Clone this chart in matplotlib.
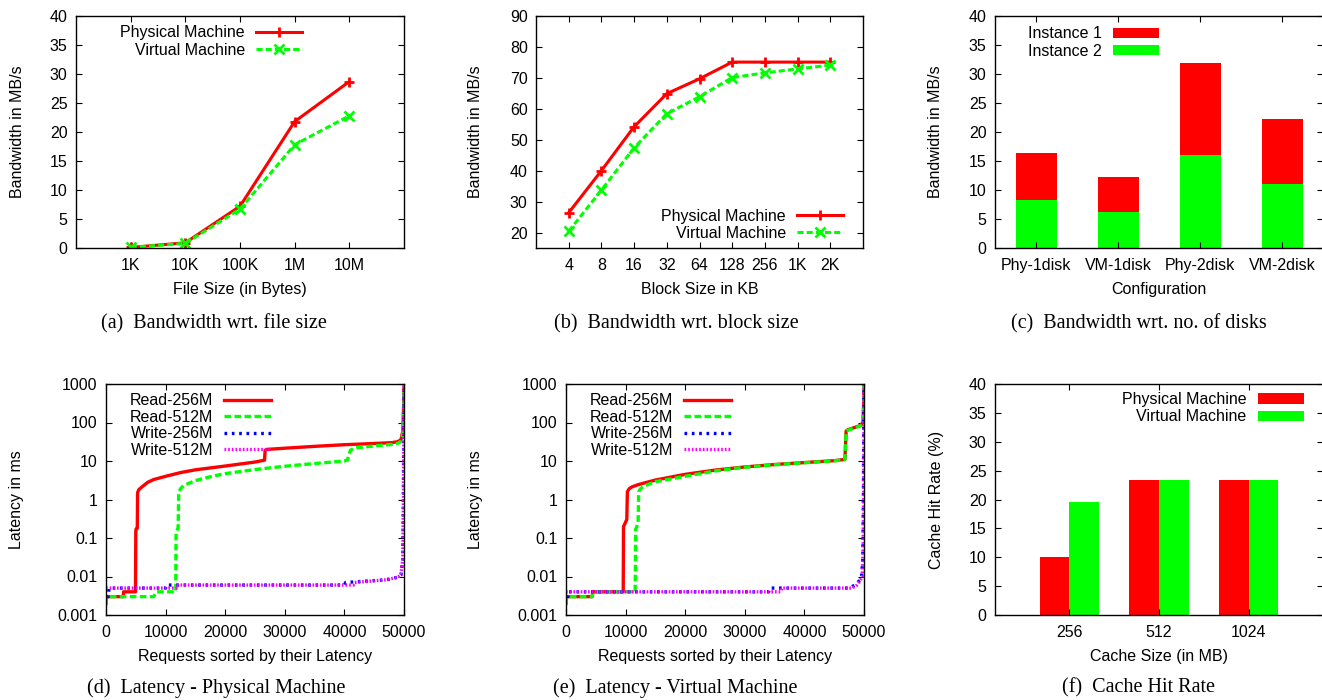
'''
Six-panel storage benchmark figure:
bandwidth, latency and cache hit rate on physical vs virtual machines
'''

import matplotlib
matplotlib.use("Agg")
import matplotlib.pyplot as plt
from matplotlib.ticker import NullLocator, FixedLocator
import numpy as np


##########################################
# data

file_sizes = ["1K", "10K", "100K", "1M", "10M"]
file_phys = [0.1, 0.9, 7.2, 21.8, 28.7]
file_virt = [0.1, 0.8, 6.7, 17.8, 22.8]

block_sizes = ["4", "8", "16", "32", "64", "128", "256", "1K", "2K"]
block_phys = [26.4, 40.0, 54.2, 64.9, 69.7, 75.1, 75.1, 75.1, 75.1]
block_virt = [20.4, 33.7, 47.4, 58.4, 63.9, 70.1, 71.6, 72.9, 74.1]

disk_configs = ["Phy-1disk", "VM-1disk", "Phy-2disk", "VM-2disk"]
disk_inst2 = [8.3, 6.2, 16.0, 11.1]
disk_inst1 = [8.1, 6.1, 15.9, 11.1]

cache_sizes = ["256", "512", "1024"]
cache_phys = [10.0, 23.4, 23.4]
cache_virt = [19.5, 23.4, 23.4]

# latency curves, physical machine (request index, latency in ms)
phys_r256_x = [0, 100, 200, 2900, 2950, 4950, 5000, 5050, 5250, 5300, 5500, 6000, 7000, 8000,
               10000, 12500, 15000, 20000, 25000, 26600, 26700, 27000, 30000, 35000, 40000,
               45000, 48000, 49000, 49500, 49800, 49950, 50000]
phys_r256_y = [0.002, 0.003, 0.003, 0.003, 0.004, 0.004, 0.15, 0.17, 0.18, 1.5, 1.8, 2.1, 2.8, 3.3,
               4.0, 5.0, 5.9, 7.4, 9.4, 10.5, 19, 20, 21.5, 24, 26.5,
               28.5, 30, 32, 36, 60, 300, 1000]
phys_r512_x = [0, 100, 200, 8000, 8500, 11700, 11750, 12000, 12100, 12200, 12500, 13000, 15000,
               17500, 20000, 25000, 30000, 35000, 40000, 40500, 41000, 41500, 42000, 45000,
               48000, 49000, 49500, 49800, 49950, 50000]
phys_r512_y = [0.002, 0.003, 0.003, 0.003, 0.004, 0.004, 0.13, 0.17, 0.18, 1.5, 1.9, 2.3, 3.1,
               3.9, 4.7, 6.0, 7.3, 8.6, 10.0, 10.6, 19, 21, 22, 24.5,
               27, 29, 32, 50, 300, 1000]
phys_w256_x = [0, 400, 500, 10000, 10100, 40000, 40200, 47000, 49000, 49500, 49800, 49900, 50000]
phys_w256_y = [0.003, 0.003, 0.005, 0.005, 0.006, 0.006, 0.007, 0.0082, 0.0096, 0.011, 0.03, 1, 1000]
phys_w512_x = [0, 12000, 12100, 41500, 41700, 47000, 49000, 49500, 49800, 49900, 50000]
phys_w512_y = [0.005, 0.005, 0.006, 0.006, 0.007, 0.0082, 0.0096, 0.011, 0.03, 1, 1000]

# latency curves, virtual machine
virt_r256_x = [0, 100, 200, 4400, 4500, 9600, 9650, 9800, 10100, 10200, 10300, 10600, 11000,
               12000, 13000, 15000, 20000, 25000, 30000, 35000, 40000, 45000, 46800, 47000,
               47300, 48500, 49500, 49800, 49950, 50000]
virt_r256_y = [0.002, 0.003, 0.003, 0.003, 0.004, 0.004, 0.2, 0.22, 0.28, 0.3, 1.6, 1.9, 2.1,
               2.4, 2.65, 3.2, 4.5, 5.8, 7.0, 8.1, 9.1, 10.2, 11, 60,
               65, 75, 85, 100, 300, 1000]
virt_r512_x = [0, 100, 200, 4400, 4500, 11600, 11700, 11900, 12100, 12200, 12500, 13000, 15000,
               17500, 20000, 25000, 30000, 35000, 40000, 45000, 46800, 47000, 47300, 48500,
               49500, 49800, 49950, 50000]
virt_r512_y = [0.002, 0.003, 0.003, 0.003, 0.004, 0.004, 0.17, 0.2, 0.25, 1.6, 1.9, 2.2, 2.9,
               3.4, 4.0, 5.5, 6.9, 8.0, 9.0, 10.1, 10.9, 58, 63, 73,
               83, 95, 300, 1000]
virt_w256_x = [0, 300, 400, 34000, 34200, 47500, 48500, 49300, 49600, 49800, 49900, 50000]
virt_w256_y = [0.003, 0.003, 0.004, 0.004, 0.005, 0.005, 0.006, 0.008, 0.01, 0.03, 1, 1000]
virt_w512_x = [0, 36000, 36200, 48000, 48800, 49400, 49700, 49850, 49950, 50000]
virt_w512_y = [0.004, 0.004, 0.005, 0.005, 0.006, 0.008, 0.01, 0.05, 2, 1000]

captions = ["(a)  Bandwidth wrt. file size", "(b)  Bandwidth wrt. block size",
            "(c)  Bandwidth wrt. no. of disks", "(d)  Latency - Physical Machine",
            "(e)  Latency - Virtual Machine", "(f)  Cache Hit Rate"]


##########################################
# style

RED = "#ff0000"
GREEN = "#00ff00"
BLUE = "#0000ff"
MAGENTA = "#ff00ff"

plt.rcParams["font.family"] = ["Liberation Sans", "DejaVu Sans"]
plt.rcParams["font.size"] = 11.5
plt.rcParams["axes.linewidth"] = 1.0
plt.rcParams["xtick.direction"] = "in"
plt.rcParams["ytick.direction"] = "in"
plt.rcParams["xtick.top"] = True
plt.rcParams["ytick.right"] = True
plt.rcParams["xtick.major.size"] = 4.5
plt.rcParams["ytick.major.size"] = 4.5
plt.rcParams["xtick.major.pad"] = 7.5
plt.rcParams["ytick.major.pad"] = 6
plt.rcParams["xtick.minor.visible"] = False
plt.rcParams["ytick.minor.visible"] = False

W, H = 1322.0, 700.0


def box(x0, y0, x1, y1):
  '''pixel box (top-left origin) to figure fraction rect'''
  return [x0/W, 1-y1/H, (x1-x0)/W, (y1-y0)/H]


def gnuLegend(ax, **kw):
  '''gnuplot style key: text right aligned, sample on the right'''
  opts = dict(frameon=False, markerfirst=False, borderpad=0, borderaxespad=0,
              handlelength=2.9, handletextpad=0.7, labelspacing=0.15, fontsize=11.5)
  opts.update(kw)
  return ax.legend(**opts)


fig = plt.figure(figsize=(13.22, 7.0), dpi=100)

ax_a = fig.add_axes(box(76, 16, 404, 248))
ax_b = fig.add_axes(box(536, 16, 863, 248))
ax_c = fig.add_axes(box(995, 16, 1323, 248))
ax_d = fig.add_axes(box(106, 384, 404, 615))
ax_e = fig.add_axes(box(566, 384, 864, 615))
ax_f = fig.add_axes(box(995, 384, 1323, 615))

lineKw = dict(lw=2.2, ms=7, mew=2)

##########################################
# (a) file size

pos = np.arange(1, len(file_sizes)+1)
ax_a.plot(pos, file_phys, color=RED, marker="+", label="Physical Machine", **lineKw)
ax_a.plot(pos, file_virt, color=GREEN, marker="x", ls=(0, (2, 1)), label="Virtual Machine", **lineKw)
ax_a.set_xlim(0, len(file_sizes)+1)
ax_a.set_ylim(0, 40)
ax_a.set_xticks(pos)
ax_a.set_xticklabels(file_sizes)
ax_a.set_yticks(np.arange(0, 41, 5))
ax_a.set_xlabel("File Size (in Bytes)", labelpad=6)
ax_a.set_ylabel("Bandwidth in MB/s")
ax_a.yaxis.set_label_coords(-0.155, 0.5)
gnuLegend(ax_a, loc="upper left", bbox_to_anchor=(0.135, 0.96))

##########################################
# (b) block size

pos = np.arange(1, len(block_sizes)+1)
ax_b.plot(pos, block_phys, color=RED, marker="+", label="Physical Machine", **lineKw)
ax_b.plot(pos, block_virt, color=GREEN, marker="x", ls=(0, (2, 1)), label="Virtual Machine", **lineKw)
ax_b.set_xlim(0, len(block_sizes)+1)
ax_b.set_ylim(15, 90)
ax_b.set_xticks(pos)
ax_b.set_xticklabels(block_sizes)
ax_b.set_yticks(np.arange(20, 91, 10))
ax_b.set_xlabel("Block Size in KB", labelpad=6)
ax_b.set_ylabel("Bandwidth in MB/s")
ax_b.yaxis.set_label_coords(-0.162, 0.5)
gnuLegend(ax_b, loc="lower right", bbox_to_anchor=(0.94, 0.03))

##########################################
# (c) number of disks, stacked

pos = np.arange(len(disk_configs))
ax_c.bar(pos, disk_inst1, 0.5, bottom=disk_inst2, color=RED, label="Instance 1")
ax_c.bar(pos, disk_inst2, 0.5, color=GREEN, label="Instance 2")
ax_c.set_xlim(-0.5, len(disk_configs)-0.5)
ax_c.set_ylim(0, 40)
ax_c.set_xticks(pos)
ax_c.set_xticklabels(disk_configs)
ax_c.set_yticks(np.arange(0, 41, 5))
ax_c.set_xlabel("Configuration", labelpad=6)
ax_c.set_ylabel("Bandwidth in MB/s")
ax_c.yaxis.set_label_coords(-0.159, 0.5)
gnuLegend(ax_c, loc="upper left", bbox_to_anchor=(0.10, 0.955), handleheight=0.6)

##########################################
# (d), (e) latency

def latencyPanel(ax, curves, labx):
  styles = [(RED, "-", 2.4), (GREEN, (0, (2, 1)), 2.4),
            (BLUE, (0, (0.8, 1.4)), 2.4), (MAGENTA, (0, (0.5, 0.6)), 2.4)]
  names = ["Read-256M", "Read-512M", "Write-256M", "Write-512M"]
  for (x, y), (c, ls, lw), n in zip(curves, styles, names):
    ax.plot(x, y, color=c, ls=ls, lw=lw, label=n)
  ax.set_yscale("log")
  ax.set_ylim(0.001, 1000)
  ax.set_xlim(0, 50000)
  ax.yaxis.set_major_locator(FixedLocator([0.001, 0.01, 0.1, 1, 10, 100, 1000]))
  ax.yaxis.set_minor_locator(NullLocator())
  ax.set_yticklabels(["0.001", "0.01", "0.1", "1", "10", "100", "1000"])
  ax.set_xticks(np.arange(0, 50001, 10000))
  ax.set_xlabel("Requests sorted by their Latency", labelpad=6)
  ax.set_ylabel("Latency in ms")
  ax.yaxis.set_label_coords(labx, 0.5)
  gnuLegend(ax, loc="upper left", bbox_to_anchor=(0.08, 0.96), labelspacing=0.1)

latencyPanel(ax_d, [(phys_r256_x, phys_r256_y), (phys_r512_x, phys_r512_y),
                    (phys_w256_x, phys_w256_y), (phys_w512_x, phys_w512_y)], -0.275)
latencyPanel(ax_e, [(virt_r256_x, virt_r256_y), (virt_r512_x, virt_r512_y),
                    (virt_w256_x, virt_w256_y), (virt_w512_x, virt_w512_y)], -0.279)

##########################################
# (f) cache hit rate

pos = np.arange(len(cache_sizes))
bw = 1/3.
ax_f.bar(pos-bw/2, cache_phys, bw, color=RED, label="Physical Machine")
ax_f.bar(pos+bw/2, cache_virt, bw, color=GREEN, label="Virtual Machine")
ax_f.set_xlim(-0.83, 2.83)
ax_f.set_ylim(0, 40)
ax_f.set_xticks(pos)
ax_f.set_xticklabels(cache_sizes)
ax_f.set_yticks(np.arange(0, 41, 5))
ax_f.set_xlabel("Cache Size (in MB)", labelpad=6)
ax_f.set_ylabel("Cache Hit Rate (%)")
ax_f.yaxis.set_label_coords(-0.155, 0.5)
gnuLegend(ax_f, loc="upper right", bbox_to_anchor=(0.942, 0.965), handleheight=0.6)

##########################################
# sub-captions

capX = [214, 676, 1139, 216, 675, 1139]
capY = [324, 324, 324, 688, 688, 688]
for t, cx, cy in zip(captions, capX, capY):
  fig.text(cx/W, 1-cy/H, t, ha="center", va="center",
           family=["Liberation Serif", "DejaVu Serif"], fontsize=14.5)

fig.savefig("out.png", dpi=100)
